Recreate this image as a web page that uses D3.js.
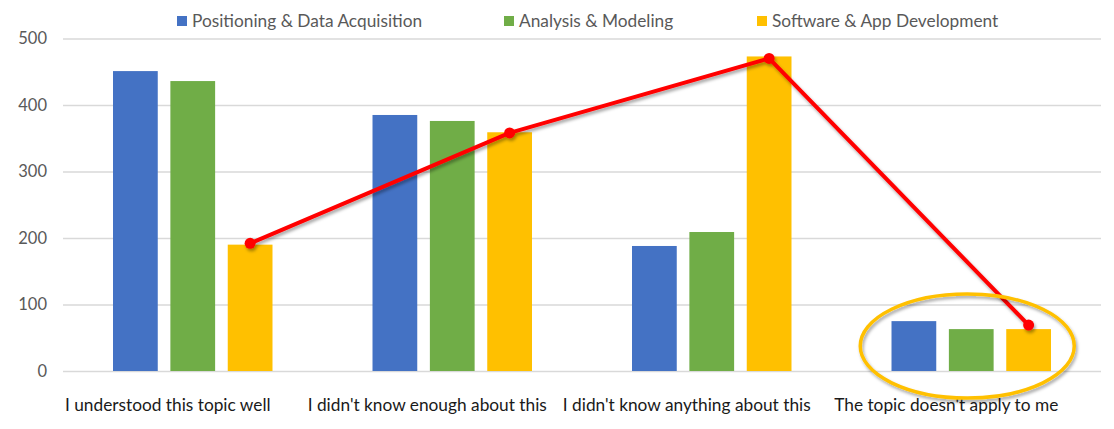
<!DOCTYPE html>
<html>
<head>
<meta charset="utf-8">
<script src="https://cdn.jsdelivr.net/npm/d3@7"></script>
<style>
  html, body { margin: 0; padding: 0; background: #fff; }
  svg { display: block; font-family: Lato, "Open Sans", sans-serif; }
</style>
</head>
<body>
<div id="chart"></div>
<script>
// data
const categories = [
      "I understood this topic well",
      "I didn't know enough about this",
      "I didn't know anything about this",
      "The topic doesn't apply to me"
]
const seriesNames = ["Positioning & Data Acquisition", "Analysis & Modeling", "Software & App Development"]
const positioning = [451, 385, 188, 75]
const analysis = [436, 376, 209, 63]
const software = [190, 359, 473, 63]
const trendLine = [192, 358, 470, 69]
const yTicks = [0, 100, 200, 300, 400, 500]

const colors = ["#4472C4", "#70AD47", "#FFC000"]

const width = 1114,
      height = 429,
      marginLeft = 63,
      marginRight = 13,
      yBottom = 371,
      yTop = 38.5

const series = [positioning, analysis, software]
const rows = categories.map((c, i) => ({
      cat: c,
      values: series.map((s, j) => ({ key: seriesNames[j], value: s[i], color: colors[j] }))
}))

// scales
const x0 = d3.scaleBand()
      .domain(categories)
      .range([marginLeft, width - marginRight])
      .padding(0)
const groupInset = x0.bandwidth() * 0.1927
const x1 = d3.scaleBand()
      .domain(seriesNames)
      .range([groupInset, x0.bandwidth() - groupInset])
      .paddingInner(0.22)
const y = d3.scaleLinear()
      .domain([0, 500])
      .range([yBottom, yTop])

const svg = d3.select("#chart").append("svg")
      .attr("width", width)
      .attr("height", height)
      .attr("viewBox", [0, 0, width, height])

// shadows
const defs = svg.append("defs")
const shadow = defs.append("filter")
      .attr("id", "shadow")
      .attr("x", "-20%").attr("y", "-20%")
      .attr("width", "140%").attr("height", "140%")
shadow.append("feDropShadow")
      .attr("dx", 1.5).attr("dy", 2.5)
      .attr("stdDeviation", 1.5)
      .attr("flood-color", "#000")
      .attr("flood-opacity", 0.35)

// grid + y axis
svg.append("g")
      .attr("transform", `translate(${marginLeft},0)`)
      .call(d3.axisLeft(y).tickValues(yTicks).tickSize(0).tickPadding(16))
      .call(g => g.select(".domain").remove())
      .call(g => g.selectAll(".tick line").clone()
            .attr("x2", width - marginLeft - marginRight)
            .attr("stroke", "#d9d9d9")
            .attr("stroke-width", 1.3))
      .call(g => g.selectAll(".tick text")
            .attr("font-size", 16.5)
            .attr("font-family", "Lato, sans-serif")
            .attr("fill", "#595959"))

// bars
svg.append("g")
      .selectAll("g")
      .data(rows)
      .join("g")
      .attr("transform", d => `translate(${x0(d.cat)},0)`)
      .selectAll("rect")
      .data(d => d.values)
      .join("rect")
      .attr("x", d => x1(d.key))
      .attr("y", d => y(d.value))
      .attr("width", x1.bandwidth())
      .attr("height", d => y(0) - y(d.value))
      .attr("fill", d => d.color)

// x labels
svg.append("g")
      .selectAll("text")
      .data(categories)
      .join("text")
      .attr("x", d => x0(d) + x0.bandwidth() / 2 - 25)
      .attr("y", 411)
      .attr("text-anchor", "middle")
      .attr("font-size", 17.3)
      .attr("fill", "#1a1a1a")
      .text(d => d)

// red line
const lineX = i => x0(categories[i]) + x1(seriesNames[2]) + x1.bandwidth() / 2
const line = d3.line()
      .x((d, i) => lineX(i))
      .y(d => y(d))
const lineG = svg.append("g").attr("filter", "url(#shadow)")
lineG.append("path")
      .datum(trendLine)
      .attr("d", line)
      .attr("fill", "none")
      .attr("stroke", "#FF0000")
      .attr("stroke-width", 4)
      .attr("stroke-linejoin", "round")
lineG.selectAll("circle")
      .data(trendLine)
      .join("circle")
      .attr("cx", (d, i) => lineX(i))
      .attr("cy", d => y(d))
      .attr("r", 5.5)
      .attr("fill", "#FF0000")

// ellipse highlight around last group
const lastCat = categories[3]
svg.append("ellipse")
      .attr("cx", x0(lastCat) + x0.bandwidth() / 2 - 4)
      .attr("cy", (y(0) + y(75)) / 2)
      .attr("rx", 107)
      .attr("ry", 52)
      .attr("fill", "none")
      .attr("stroke", "#FFC000")
      .attr("stroke-width", 3.5)
      .attr("filter", "url(#shadow)")

// legend
const legendX = [177, 504, 757]
const legend = svg.append("g")
      .selectAll("g")
      .data(seriesNames)
      .join("g")
      .attr("transform", (d, i) => `translate(${legendX[i]},16)`)
legend.append("rect")
      .attr("width", 10)
      .attr("height", 10)
      .attr("fill", (d, i) => colors[i])
legend.append("text")
      .attr("x", 15)
      .attr("y", 11)
      .attr("font-size", 17.3)
      .attr("fill", "#595959")
      .text(d => d)
</script>
</body>
</html>
